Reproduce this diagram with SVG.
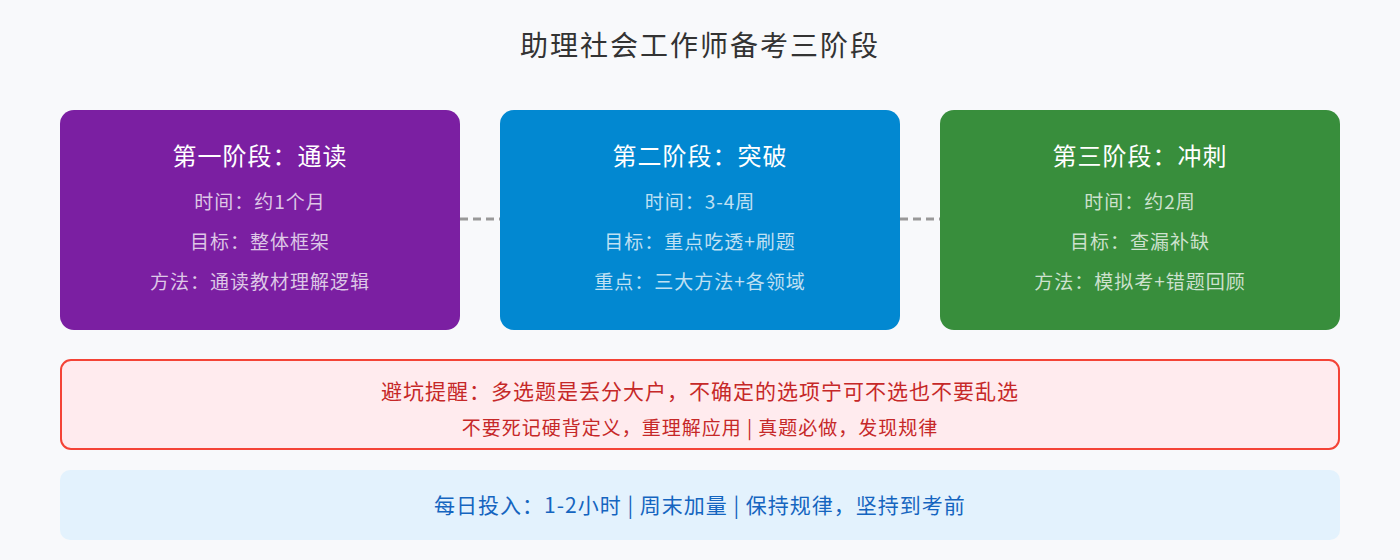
<svg xmlns="http://www.w3.org/2000/svg" width="1400" height="560" viewBox="0 0 1400 560">
<style>
text{font-family:"Noto Sans CJK SC","Noto Sans",sans-serif;text-anchor:middle}
.t{font-size:24px;fill:#fff;letter-spacing:1px}
.s{font-size:19px;fill:#fff;fill-opacity:0.75;letter-spacing:1px}
.c{stroke:#999;stroke-width:3;stroke-dasharray:8,5;fill:none}
</style>
<rect width="1400" height="560" fill="#f8f9fb"/>
<text x="700" y="56" font-size="28" fill="#333" letter-spacing="2">助理社会工作师备考三阶段</text>
<g id="connectors">
<line class="c" x1="460" y1="219" x2="500" y2="219"/>
<line class="c" x1="900" y1="219" x2="940" y2="219"/>
</g>
<g id="stage1">
<rect x="60" y="110" width="400" height="220" rx="14" fill="#7b1fa2"/>
<text class="t" x="260" y="165">第一阶段：通读</text>
<text class="s" x="260" y="209">时间：约1个月</text>
<text class="s" x="260" y="249">目标：整体框架</text>
<text class="s" x="260" y="289">方法：通读教材理解逻辑</text>
</g>
<g id="stage2">
<rect x="500" y="110" width="400" height="220" rx="14" fill="#0288d1"/>
<text class="t" x="700" y="165">第二阶段：突破</text>
<text class="s" x="700" y="209">时间：3-4周</text>
<text class="s" x="700" y="249">目标：重点吃透+刷题</text>
<text class="s" x="700" y="289">重点：三大方法+各领域</text>
</g>
<g id="stage3">
<rect x="940" y="110" width="400" height="220" rx="14" fill="#388e3c"/>
<text class="t" x="1140" y="165">第三阶段：冲刺</text>
<text class="s" x="1140" y="209">时间：约2周</text>
<text class="s" x="1140" y="249">目标：查漏补缺</text>
<text class="s" x="1140" y="289">方法：模拟考+错题回顾</text>
</g>
<g id="warning">
<rect x="61" y="360" width="1278" height="89" rx="10" fill="#ffebee" stroke="#f44336" stroke-width="2"/>
<text x="700" y="399" font-size="21" fill="#c62828" letter-spacing="1">避坑提醒：多选题是丢分大户，不确定的选项宁可不选也不要乱选</text>
<text x="700" y="435" font-size="19" fill="#c62828" letter-spacing="1">不要死记硬背定义，重理解应用 | 真题必做，发现规律</text>
</g>
<g id="daily">
<rect x="60" y="470" width="1280" height="70" rx="10" fill="#e3f2fd"/>
<text x="700" y="513" font-size="21" fill="#1565c0" letter-spacing="1">每日投入：1-2小时 | 周末加量 | 保持规律，坚持到考前</text>
</g>
</svg>
